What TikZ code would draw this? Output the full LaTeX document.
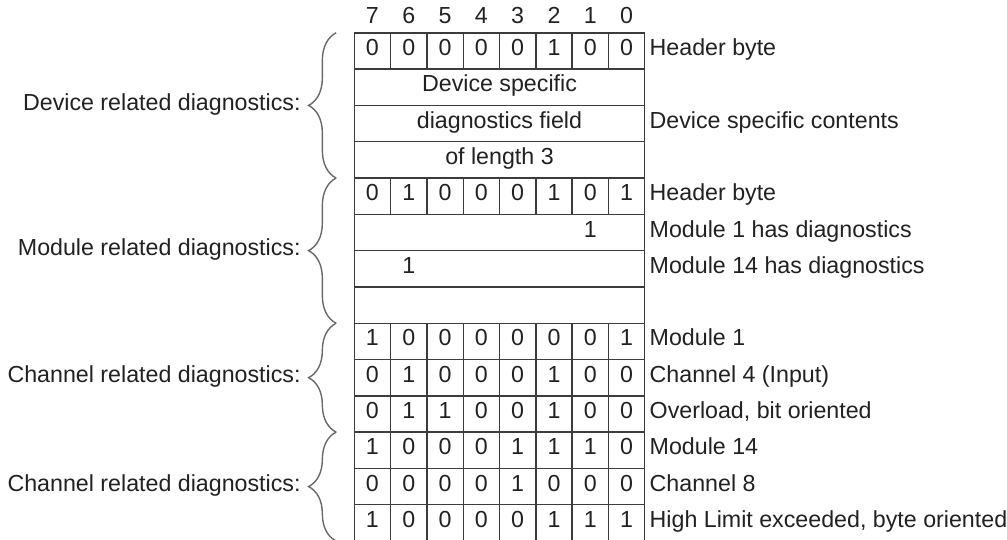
\documentclass[tikz,border=0pt]{standalone}
\usepackage{fontspec}
\setmainfont{Liberation Sans}
\usepackage{tikz}
\usetikzlibrary{positioning, decorations.pathreplacing}
\definecolor{inkgray}{RGB}{35,32,33}
\definecolor{rulegray}{RGB}{60,60,60}
\definecolor{bracegray}{RGB}{105,105,105}

\begin{document}
\begin{tikzpicture}[font=\fontsize{18.2}{21}\selectfont, text=inkgray,
    every node/.style={inner sep=0pt, text height=0.72em, text depth=0pt},
    bitcell/.style={anchor=center},
    rowlbl/.style={anchor=west},
    grouplbl/.style={anchor=east},
    rule/.style={draw=rulegray, line width=1.1pt},
    diabrace/.style={draw=bracegray, line width=1.1pt, decorate,
      decoration={brace, amplitude=0.76cm, aspect=0.5}}]
  \useasboundingbox (-9.76,-13.97) rectangle (17.98,0.904);

  % bit positions
  \foreach \b [count=\i from 0] in {7,6,5,4,3,2,1,0}
    \node[bitcell] (pos\b) at (\i+0.5, 0.38) {\b};

  % table
  \draw[rule] (0,0) rectangle (8,-14);
  \foreach \y in {1,...,13} \draw[rule] (0,-\y) -- (8,-\y);
  \foreach \x in {1,...,7} {
    \draw[rule] (\x,0) -- (\x,-1);
    \draw[rule] (\x,-4) -- (\x,-5);
    \draw[rule] (\x,-8) -- (\x,-14);
  }

  % byte rows
  \foreach \r/\bits in {1/{0,0,0,0,0,1,0,0}, 5/{0,1,0,0,0,1,0,1},
                        9/{1,0,0,0,0,0,0,1}, 10/{0,1,0,0,0,1,0,0},
                        11/{0,1,1,0,0,1,0,0}, 12/{1,0,0,0,1,1,1,0},
                        13/{0,0,0,0,1,0,0,0}, 14/{1,0,0,0,0,1,1,1}}
    \foreach \v [count=\c from 0] in \bits
      \node[bitcell] (b\r-\c) at (\c+0.5, 0.5-\r) {\v};

  \node[bitcell] (devspec) at (4,-1.5) {Device specific};
  \node[bitcell] (diagfield) at (4,-2.5) {diagnostics field};
  \node[bitcell] (fieldlen) at (4,-3.5) {of length 3};
  \node[bitcell] (mod1bit) at (6.5,-5.5) {1};
  \node[bitcell] (mod14bit) at (1.5,-6.5) {1};

  % row comments
  \node[rowlbl] (hdr1) at (8.13,-0.5) {Header byte};
  \node[rowlbl] (devcont) at (8.13,-2.5) {Device specific contents};
  \node[rowlbl] (hdr2) at (8.13,-4.5) {Header byte};
  \node[rowlbl] (mod1) at (8.13,-5.5) {Module 1 has diagnostics};
  \node[rowlbl] (mod14) at (8.13,-6.5) {Module 14 has diagnostics};
  \node[rowlbl] (chmod1) at (8.13,-8.5) {Module 1};
  \node[rowlbl] (ch4) at (8.13,-9.5) {Channel 4 (Input)};
  \node[rowlbl] (ovl) at (8.13,-10.5) {Overload, bit oriented};
  \node[rowlbl] (chmod14) at (8.13,-11.5) {Module 14};
  \node[rowlbl] (ch8) at (8.13,-12.5) {Channel 8};
  \node[rowlbl] (hilim) at (8.13,-13.5) {High Limit exceeded, byte oriented};

  % groups
  \coordinate (g0) at (-0.5,0);
  \coordinate (g4) at (-0.5,-4);
  \coordinate (g8) at (-0.5,-8);
  \coordinate (g11) at (-0.5,-11);
  \coordinate (g14) at (-0.5,-14);
  \draw[diabrace] (g4) -- (g0)
    node[grouplbl, midway, xshift=-0.96cm] (devgrp) {Device related diagnostics:};
  \draw[diabrace] (g8) -- (g4)
    node[grouplbl, midway, xshift=-0.96cm] (modgrp) {Module related diagnostics:};
  \draw[diabrace] (g11) -- (g8)
    node[grouplbl, midway, xshift=-0.96cm] (chgrp1) {Channel related diagnostics:};
  \draw[diabrace] (g14) -- (g11)
    node[grouplbl, midway, xshift=-0.96cm] (chgrp2) {Channel related diagnostics:};
\end{tikzpicture}
\end{document}
